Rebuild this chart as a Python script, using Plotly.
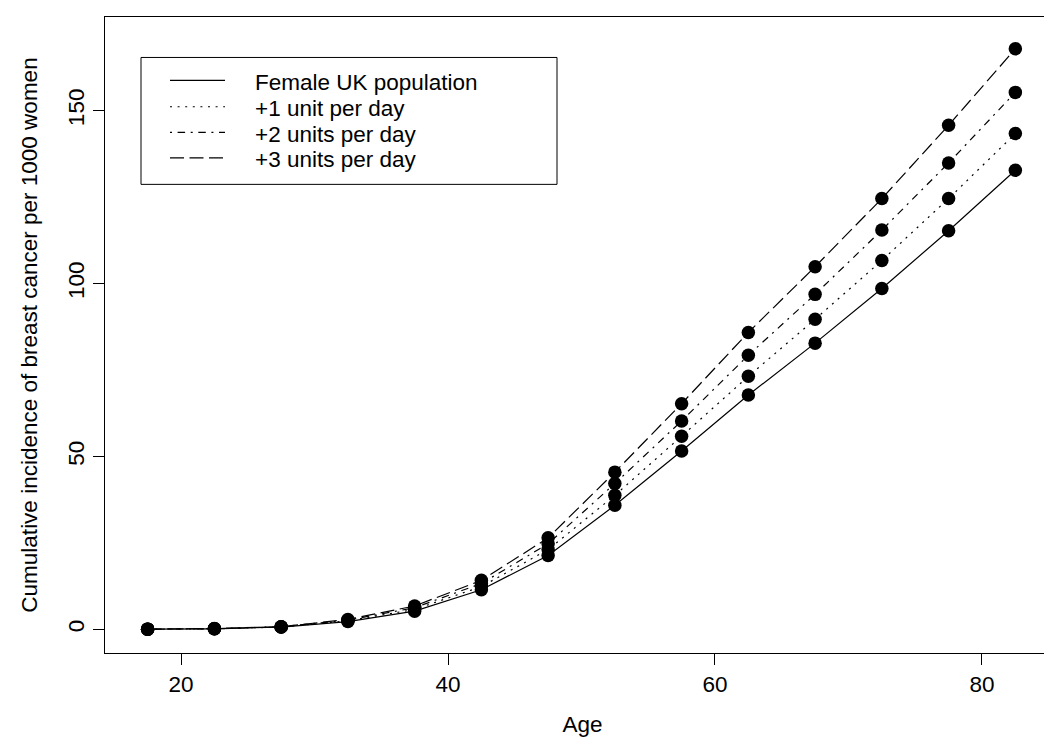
import plotly.graph_objects as go

# ---- data ----
ages = [17.5, 22.5, 27.5, 32.5, 37.5, 42.5, 47.5, 52.5, 57.5, 62.5, 67.5, 72.5, 77.5, 82.5]
female_uk = [0.1, 0.2, 0.7, 2.3, 5.3, 11.5, 21.4, 35.9, 51.6, 67.8, 82.8, 98.6, 115.3, 132.8]
plus1_unit = [0.1, 0.2, 0.7, 2.5, 5.8, 12.4, 23.1, 38.8, 55.9, 73.2, 89.7, 106.7, 124.6, 143.4]
plus2_units = [0.1, 0.2, 0.8, 2.7, 6.3, 13.3, 24.8, 42.2, 60.3, 79.3, 96.9, 115.5, 134.9, 155.3]
plus3_units = [0.1, 0.3, 0.8, 2.9, 6.8, 14.2, 26.5, 45.5, 65.3, 85.9, 104.9, 124.6, 145.8, 167.9]
series_names = ["Female UK population", "+1 unit per day", "+2 units per day", "+3 units per day"]
x_ticks = [20, 40, 60, 80]
y_ticks = [0, 50, 100, 150]

FONT = "Liberation Sans, Arial, Helvetica, sans-serif"
FS = 22.5
W, H = 1052, 742
ML, MR, MT, MB = 97, 0, 8.5, 97
PW, PH = W - ML - MR, H - MT - MB

dashes = ["solid", "2px,5.6px", "2px,5.6px,7.5px,5.6px", "14px,5.5px"]
series = [female_uk, plus1_unit, plus2_units, plus3_units]

fig = go.Figure()
for name, vals, dash in zip(series_names, series, dashes):
    fig.add_trace(go.Scatter(
        x=ages, y=vals, name=name, mode="lines+markers",
        line=dict(color="black", width=1.2, dash=dash),
        marker=dict(color="black", size=13.5, symbol="circle", line=dict(width=0)),
        showlegend=False,
    ))

def px(xp):
    return (xp - ML) / PW

def py(yp):
    return (H - MB - yp) / PH

shapes = [dict(type="rect", xref="paper", yref="paper",
               x0=px(133), x1=px(549), y0=py(49), y1=py(176),
               line=dict(color="black", width=1), fillcolor="white", layer="above")]
annotations = []
row_y = [72, 98.3, 124, 149.5]
for name, dash, ry in zip(series_names, dashes, row_y):
    shapes.append(dict(type="line", xref="paper", yref="paper",
                       x0=px(162), x1=px(217), y0=py(ry), y1=py(ry),
                       line=dict(color="black", width=1.2, dash=dash), layer="above"))
    annotations.append(dict(xref="paper", yref="paper", x=px(245), y=py(ry + 2),
                            xanchor="left", yanchor="middle", showarrow=False,
                            text=name, font=dict(family=FONT, size=FS, color="black")))

fig.update_layout(
    width=W, height=H,
    margin=dict(l=ML, r=MR, t=MT, b=MB, pad=0, autoexpand=False),
    paper_bgcolor="white", plot_bgcolor="white",
    font=dict(family=FONT, size=FS, color="black"),
    shapes=shapes, annotations=annotations,
    showlegend=False,
)
fig.update_xaxes(
    range=[14.305, 85.845], tickmode="array", tickvals=x_ticks,
    ticks="outside", ticklen=11, tickwidth=1, tickcolor="black",
    showline=True, linecolor="black", linewidth=1, mirror=True,
    showgrid=False, zeroline=False, automargin=False,
    tickfont=dict(family=FONT, size=FS, color="black"),
    title=dict(text="Age", font=dict(family=FONT, size=FS, color="black"), standoff=20),
)
fig.update_yaxes(
    range=[-6.8, 177.1], tickmode="array", tickvals=y_ticks, tickangle=-90,
    ticks="outside", ticklen=11, tickwidth=1, tickcolor="black",
    showline=True, linecolor="black", linewidth=1, mirror=False,
    showgrid=False, zeroline=False, automargin=False,
    tickfont=dict(family=FONT, size=FS, color="black"),
    title=dict(text="Cumulative incidence of breast cancer per 1000 women",
               font=dict(family=FONT, size=FS, color="black"), standoff=20),
)

fig.write_html("out.html")
